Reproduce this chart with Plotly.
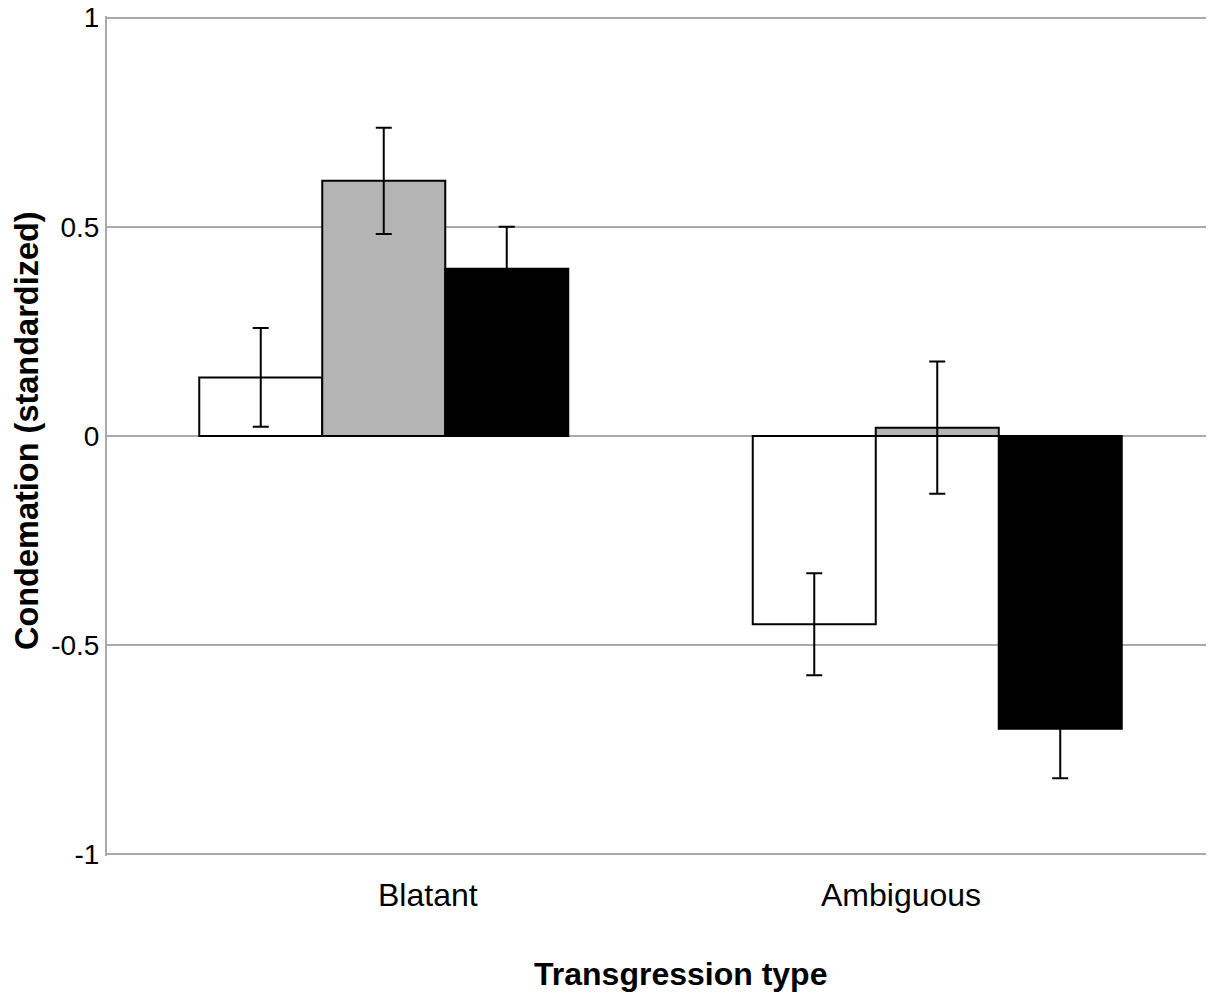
import plotly.graph_objects as go

categories = ["Blatant", "Ambiguous"]
series_names = ["Condition A", "Condition B", "Condition C"]
series_values = [
    [0.14, -0.45],
    [0.61, 0.02],
    [0.40, -0.70],
]
series_errors = [
    [0.118, 0.122],
    [0.127, 0.158],
    [0.10, 0.118],
]
series_colors = ["#ffffff", "#b4b4b4", "#000000"]
y_tick_values = [-1, -0.5, 0, 0.5, 1]
y_tick_labels = ["-1", "-0.5", "0", "0.5", "1"]
x_title = "Transgression type"
y_title = "Condemation (standardized)"

FONT = "Liberation Sans, Arial, sans-serif"
GRID = "#a9a9a9"

fig = go.Figure()
for name, vals, errs, col in zip(series_names, series_values, series_errors, series_colors):
    fig.add_trace(go.Bar(
        x=list(range(len(categories))),
        y=vals,
        name=name,
        marker=dict(color=col, line=dict(color="#000000", width=2)),
        error_y=dict(type="data", array=errs, visible=True,
                     color="#000000", thickness=2, width=8),
        showlegend=False,
    ))

# category label positions (paper fraction) as seen in the reference
cat_label_x = [0.290, 0.7177]
annotations = []
for cx, lab in zip(cat_label_x, categories):
    annotations.append(dict(text=lab, x=cx, y=-0.047, xref="paper", yref="paper",
                            xanchor="center", yanchor="middle", showarrow=False,
                            font=dict(family=FONT, size=32, color="#000000")))
annotations.append(dict(text="<b>" + x_title + "</b>", x=0.518, y=-0.14,
                        xref="paper", yref="paper", xanchor="center", yanchor="middle",
                        showarrow=False, font=dict(family=FONT, size=32, color="#000000")))
annotations.append(dict(text="<b>" + y_title + "</b>", x=-0.0723, y=0.507,
                        xref="paper", yref="paper", xanchor="center", yanchor="middle",
                        textangle=-90, showarrow=False,
                        font=dict(family=FONT, size=32.5, color="#000000")))

fig.update_layout(
    width=1206, height=985,
    margin=dict(l=99, r=0, t=8, b=137, pad=0, autoexpand=False),
    paper_bgcolor="#ffffff", plot_bgcolor="#ffffff",
    barmode="group", bargap=1/3, bargroupgap=0,
    annotations=annotations,
    font=dict(family=FONT, color="#000000"),
)
fig.update_xaxes(range=[-0.5, 1.5], showticklabels=False, showgrid=False,
                 zeroline=False, showline=False, ticks="", automargin=False)
fig.update_yaxes(range=[-1.004, 1.004], tickvals=y_tick_values, ticktext=y_tick_labels,
                 showgrid=True, gridcolor=GRID, gridwidth=2,
                 zeroline=True, zerolinecolor=GRID, zerolinewidth=2,
                 showline=True, linecolor=GRID, linewidth=2,
                 ticks="", ticklen=0, ticklabeloverflow="allow", automargin=False,
                 tickfont=dict(family=FONT, size=28, color="#000000"))

fig.write_html("out.html")
